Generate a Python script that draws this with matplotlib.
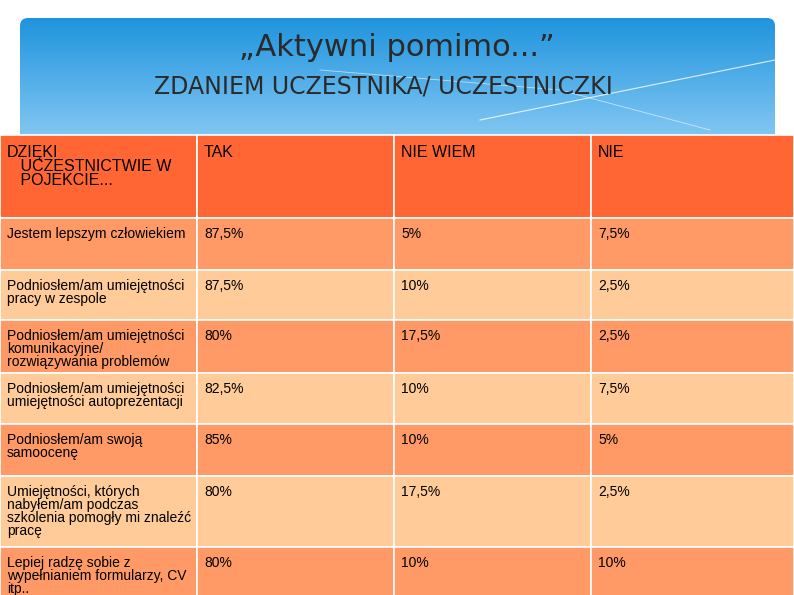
""" Slide table: Aktywni pomimo... """

import numpy as np
import matplotlib.pyplot as plt
from matplotlib.patches import FancyBboxPatch, Rectangle

W, H = 794, 595

title = "„Aktywni pomimo...”"
subtitle = "ZDANIEM UCZESTNIKA/ UCZESTNICZKI"

columns = ["DZIĘKI\n   UCZESTNICTWIE W\n   POJEKCIE...", "TAK", "NIE WIEM", "NIE"]
statements = [
    "Jestem lepszym człowiekiem",
    "Podniosłem/am umiejętności\npracy w zespole",
    "Podniosłem/am umiejętności\nkomunikacyjne/\nrozwiązywania problemów",
    "Podniosłem/am umiejętności\numiejętności autoprezentacji",
    "Podniosłem/am swoją\nsamoocenę",
    "Umiejętności, których\nnabyłem/am podczas\nszkolenia pomogły mi znaleźć\npracę",
    "Lepiej radzę sobie z\nwypełnianiem formularzy, CV\nitp..",
]
tak = ["87,5%", "87,5%", "80%", "82,5%", "85%", "80%", "80%"]
nie_wiem = ["5%", "10%", "17,5%", "10%", "10%", "17,5%", "10%"]
nie = ["7,5%", "2,5%", "2,5%", "7,5%", "5%", "2,5%", "10%"]

col_x = [0, 197, 394, 591, 794]
row_y = [135, 218, 270, 320, 373, 424, 476, 547, 610]

fig = plt.figure(figsize=(W / 100, H / 100), dpi=100)
ax = fig.add_axes([0, 0, 1, 1])
ax.set_xlim(0, W)
ax.set_ylim(H, 0)
ax.axis("off")

# Banner with blue gradient
grad = np.linspace(0, 1, 256).reshape(-1, 1)
c_top = np.array([0.12, 0.58, 0.87])
c_bot = np.array([0.55, 0.80, 0.96])
img = c_top + (c_bot - c_top) * grad[..., None]
banner = FancyBboxPatch((20, 18), 755, 130, boxstyle="round,pad=0,rounding_size=8",
                        fc="none", ec="none")
ax.add_patch(banner)
im = ax.imshow(img, extent=(20, 775, 148, 18), aspect="auto", zorder=1)
im.set_clip_path(banner)
ax.plot([480, 775], [120, 60], color="white", lw=0.8, alpha=0.8, zorder=2)
ax.plot([320, 560, 710], [70, 90, 130], color="white", lw=0.6, alpha=0.6, zorder=2)

ax.text(397, 47, title, ha="center", va="center", fontsize=22, color="#2a2a2a", zorder=3)
ax.text(383, 86, subtitle, ha="center", va="center", fontsize=17, color="#2a2a2a", zorder=3)

# Table
header_c = "#ff6633"
dark_c = "#ff9966"
light_c = "#ffcc99"
rows = [columns] + [[s, a, b, c] for s, a, b, c in zip(statements, tak, nie_wiem, nie)]
for r, cells in enumerate(rows):
    y0, y1 = row_y[r], row_y[r + 1]
    fc = header_c if r == 0 else (dark_c if r % 2 == 1 else light_c)
    for c, txt in enumerate(cells):
        x0, x1 = col_x[c], col_x[c + 1]
        ax.add_patch(Rectangle((x0, y0), x1 - x0, y1 - y0, fc=fc, ec="white", lw=1.2, zorder=4))
        ax.text(x0 + 7, y0 + (10 if r == 0 else 9), txt, ha="left", va="top", zorder=5,
                fontsize=11.5 if r == 0 else 10, family="Liberation Sans",
                color="black", linespacing=0.92)

fig.savefig("out.png", dpi=100)
